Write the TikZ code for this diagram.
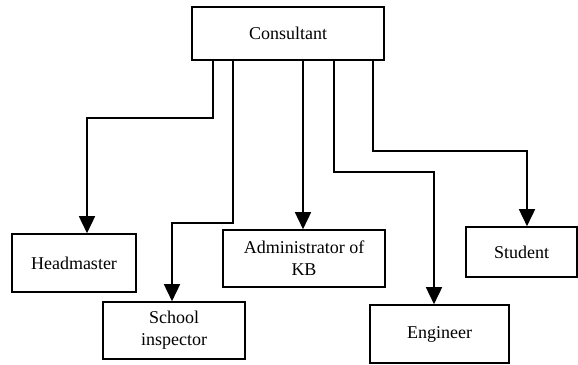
\documentclass[tikz,border=0pt]{standalone}
\usepackage{fontspec}
\setmainfont{Liberation Serif}
\usetikzlibrary{arrows.meta,calc}
\begin{document}
\begin{tikzpicture}[x=1pt,y=-1pt,
  box/.style={draw,line width=1.6pt,align=center,inner sep=2pt,font=\fontsize{18}{22}\selectfont},
  arr/.style={line width=1.6pt,-{Triangle[width=16pt,length=17pt]}}]
\useasboundingbox (0,0) rectangle (578,364);
\node[box,minimum width=192pt,minimum height=53pt] (cons) at (288,33.5) {Consultant};
\node[box,minimum width=124pt,minimum height=58pt] (head) at (74,263) {Headmaster};
\node[box,minimum width=142pt,minimum height=57pt] (school) at (174,330.5) {School\\inspector};
\node[box,minimum width=162pt,minimum height=57pt] (admin) at (304,258.5) {Administrator of\\KB};
\node[box,minimum width=139pt,minimum height=58pt] (eng) at (439.5,334) {Engineer};
\node[box,minimum width=111pt,minimum height=50pt] (stud) at (521.5,252) {Student};
\draw[arr] ([xshift=-75pt]cons.south) -- ++(0,57) -| ([xshift=13pt]head.north);
\draw[arr] ([xshift=-55pt]cons.south) -- ++(0,162) -| ([xshift=-2pt]school.north);
\draw[arr] ([xshift=15pt]cons.south) -- ([xshift=15pt]cons.south |- admin.north);
\draw[arr] ([xshift=46pt]cons.south) -- ++(0,111) -| ([xshift=-5.5pt]eng.north);
\draw[arr] ([xshift=85pt]cons.south) -- ++(0,90) -| ([xshift=5.5pt]stud.north);
\end{tikzpicture}
\end{document}
